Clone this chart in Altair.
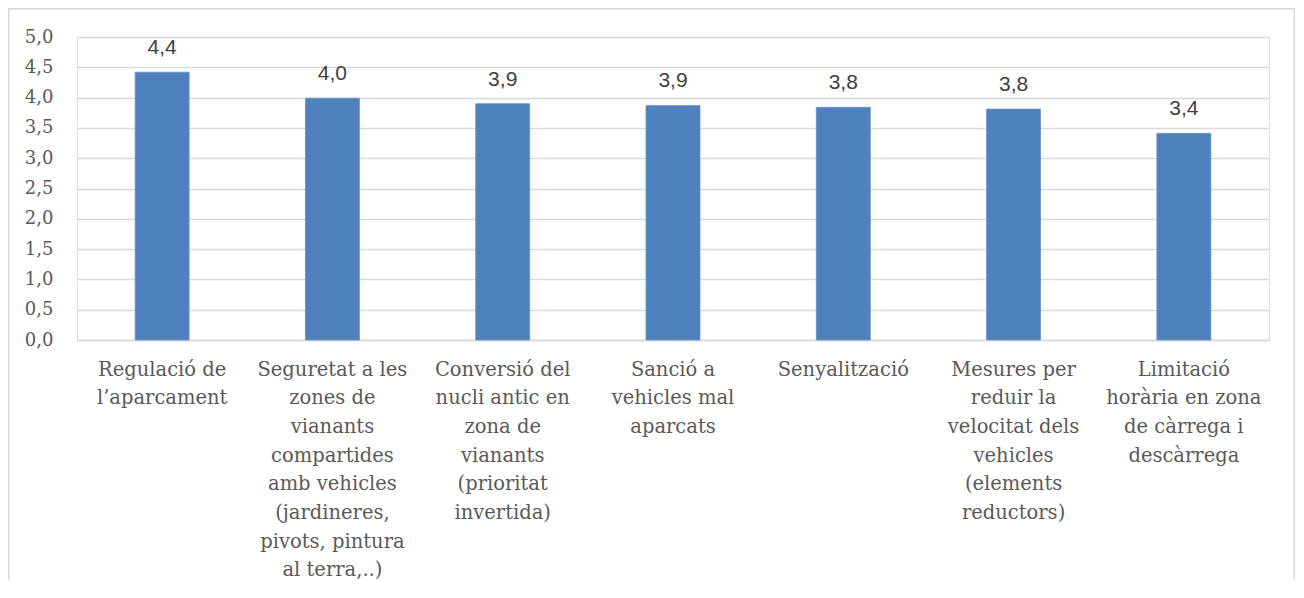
import altair as alt
import pandas as pd

categories = [
    "Regulació de|l’aparcament",
    "Seguretat a les|zones de|vianants|compartides|amb vehicles|(jardineres,|pivots, pintura|al terra,..)",
    "Conversió del|nucli antic en|zona de|vianants|(prioritat|invertida)",
    "Sanció a|vehicles mal|aparcats",
    "Senyalització",
    "Mesures per|reduir la|velocitat dels|vehicles|(elements|reductors)",
    "Limitació|horària en zona|de càrrega i|descàrrega",
]
values = [4.42, 3.99, 3.90, 3.87, 3.84, 3.81, 3.41]
y_ticks = [0.0, 0.5, 1.0, 1.5, 2.0, 2.5, 3.0, 3.5, 4.0, 4.5, 5.0]

df = pd.DataFrame({"cat": categories, "v": values})

W, H = 1192, 303
PAD_L, PAD_T, PAD_R, PAD_B = 69, 29, 26, 240

SERIF = "DejaVu Serif"
GRAY = "#595959"
GRID = "#d9d9d9"

x_enc = alt.X(
    "cat:N",
    sort=categories,
    scale=alt.Scale(paddingInner=0, paddingOuter=0),
    axis=alt.Axis(
        title=None,
        labelAngle=0,
        labelExpr="split(datum.label, '|')",
        labelFont=SERIF,
        labelFontSize=19.5,
        labelColor=GRAY,
        labelLineHeight=28.7,
        labelPadding=20,
        labelLimit=300,
        ticks=False,
        domain=True,
        domainColor=GRID,
        domainWidth=1.5,
        grid=False,
    ),
)
y_enc = alt.Y(
    "v:Q",
    scale=alt.Scale(domain=[0, 5], nice=False, zero=True),
    axis=alt.Axis(
        title=None,
        values=y_ticks,
        labelOverlap=False,
        labelExpr="replace(format(datum.value, '.1f'), '.', ',')",
        labelFont=SERIF,
        labelFontSize=18,
        labelColor=GRAY,
        labelPadding=24,
        ticks=False,
        domain=False,
        grid=True,
        gridColor=GRID,
        gridWidth=1.5,
    ),
)

base = alt.Chart(df)

bars = base.mark_bar(size=54, color="#4F81BD", stroke="#6a93c8", strokeWidth=0.8).encode(
    x=x_enc, y=y_enc
)

labels = base.transform_calculate(
    lab="replace(format(datum.v, '.1f'), '.', ',')"
).mark_text(
    font="Liberation Sans", fontSize=21, color="#404040", baseline="bottom", dy=-14
).encode(x=x_enc, y=y_enc, text="lab:N")

border = alt.Chart(pd.DataFrame({"a": [0]})).mark_rect(
    fill=None, stroke=GRID, strokeWidth=1.5
).encode(
    x=alt.value(-PAD_L + 0.75),
    x2=alt.value(W + PAD_R - 0.75),
    y=alt.value(-PAD_T + 0.75),
    y2=alt.value(H + PAD_B + 20),
)

chart = alt.layer(border, bars, labels).properties(
    width=W,
    height=H,
    autosize=alt.AutoSizeParams(type="none"),
    padding={"left": PAD_L, "top": PAD_T, "right": PAD_R, "bottom": PAD_B},
).configure_view(stroke=None).configure(background="white")

chart.save("out.html", embed_options={"renderer": "svg", "actions": False})
